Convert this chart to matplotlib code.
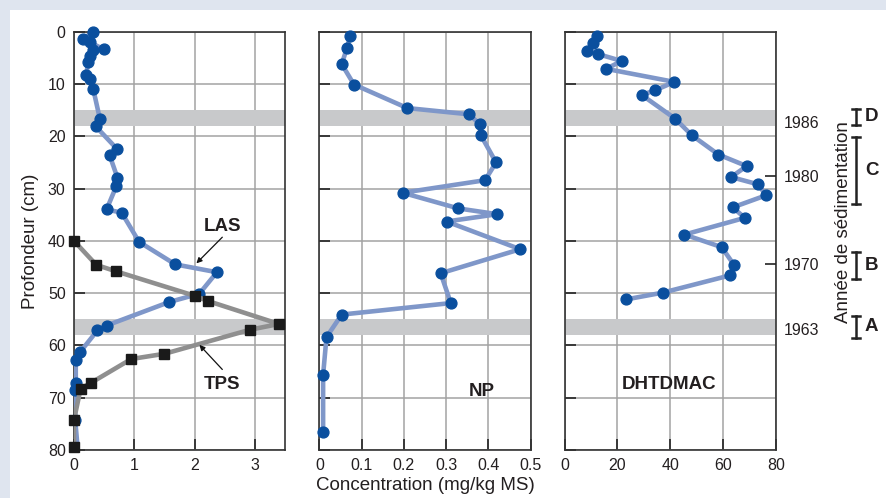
import matplotlib.pyplot as plt
import matplotlib.transforms as mtransforms
from matplotlib.patches import Rectangle

plt.rcParams['font.family'] = ['Liberation Sans', 'DejaVu Sans']

# LAS (g/kg) and TPS, depth in cm
las_depth = [0.1, 1.3, 2.0, 3.4, 3.5, 4.7, 5.7, 8.3, 9.1, 11.0, 16.7, 18.1, 22.5, 23.6,
             27.9, 29.6, 34.0, 34.6, 40.2, 44.5, 46.0, 50.1, 51.7, 56.2, 57.1, 61.3,
             62.8, 67.2, 68.5, 74.2, 78.2]
las_val = [0.32, 0.15, 0.26, 0.50, 0.32, 0.26, 0.24, 0.20, 0.26, 0.32, 0.43, 0.36, 0.72, 0.59,
           0.72, 0.70, 0.54, 0.79, 1.08, 1.68, 2.37, 2.08, 1.58, 0.54, 0.39, 0.10,
           0.03, 0.03, 0.02, 0.02, 0.05]

tps_depth = [40.0, 44.6, 45.8, 50.5, 51.5, 55.9, 57.0, 61.6, 62.6, 67.1, 68.3, 74.2, 79.5]
tps_val = [0.0, 0.37, 0.69, 2.0, 2.22, 3.40, 2.92, 1.50, 0.95, 0.29, 0.11, 0.0, 0.0]

np_depth = [0.8, 3.2, 6.2, 10.1, 14.6, 15.8, 17.7, 19.8, 25.0, 28.4, 30.8, 33.8, 34.9,
            36.3, 41.6, 46.2, 51.9, 54.1, 58.4, 65.6, 76.5]
np_val = [0.073, 0.065, 0.053, 0.082, 0.208, 0.355, 0.379, 0.382, 0.418, 0.392, 0.197,
          0.329, 0.421, 0.301, 0.475, 0.287, 0.311, 0.053, 0.017, 0.009, 0.009]

dht_depth = [0.8, 2.1, 3.7, 4.3, 5.6, 7.1, 9.6, 11.2, 12.1, 16.6, 19.8, 23.5, 25.7, 27.8,
             29.2, 31.3, 33.6, 35.6, 38.8, 41.2, 44.6, 46.6, 49.9, 51.2]
dht_val = [12.1, 10.6, 8.6, 12.8, 21.6, 15.7, 41.6, 34.3, 29.2, 41.8, 48.2, 58.3, 69.0, 63.1,
           73.4, 76.3, 63.7, 68.3, 45.4, 59.5, 64.2, 62.7, 37.2, 23.3]

# dating layers (Chernobyl 1986, 1963 bomb peak)
bands = [(15.0, 18.0), (55.0, 58.0)]
years = ['1986', '1980', '1970', '1963']
year_depth = [17.3, 27.5, 44.5, 56.8]
zones = ['D', 'C', 'B', 'A']
zone_ranges = [(14.7, 17.9), (20.2, 32.9), (42.1, 47.2), (54.3, 58.5)]

blue_line = '#7f97c9'
blue_dot = '#0a4f9e'
gray_line = '#8f8f8f'
txt = '#231f20'

fig = plt.figure(figsize=(8.86, 4.98), dpi=100, facecolor='#dfe5ef')
fig.add_artist(Rectangle((10 / 886, 0), 1, 1 - 10 / 498, transform=fig.transFigure,
                         facecolor='white', edgecolor='none', zorder=-10))

bottom, height = 0.0964, 0.8399
ax1 = fig.add_axes([0.0835, bottom, 0.2382, height])
ax2 = fig.add_axes([0.3604, bottom, 0.2386, height])
ax3 = fig.add_axes([0.6374, bottom, 0.2381, height])

for ax in (ax1, ax2, ax3):
    ax.set_ylim(80, 0)
    ax.set_yticks(range(0, 81, 10))
    ax.grid(True, color='#a3a3a3', lw=1.1)
    ax.set_axisbelow(True)
    for b in bands:
        ax.axhspan(b[0], b[1], color='#c8c9cb', lw=0, zorder=1)
    for s in ax.spines.values():
        s.set_color('#333333')
        s.set_linewidth(1.2)
    ax.tick_params(direction='in', length=8, width=1.2, color='#222222',
                   labelsize=11.5, labelcolor=txt, pad=6)

ax1.set_xlim(0, 3.5)
ax1.set_xticks([0, 1, 2, 3])
ax2.set_xlim(0, 0.5)
ax2.set_xticks([0, 0.1, 0.2, 0.3, 0.4, 0.5])
ax2.set_xticklabels(['0', '0.1', '0.2', '0.3', '0.4', '0.5'])
ax3.set_xlim(0, 80)
ax3.set_xticks([0, 20, 40, 60, 80])
ax2.set_yticklabels([])
ax3.set_yticklabels([])

# LAS line runs a bit past its last dot
ax1.plot(las_val, las_depth, color=blue_line, lw=3.3, zorder=3)
ax1.plot(las_val[:-1], las_depth[:-1], 'o', color=blue_dot, ms=7.8, zorder=4,
         clip_on=False)
ax1.plot(tps_val, tps_depth, color=gray_line, lw=3.3, zorder=5)
ax1.plot(tps_val, tps_depth, 's', color='#1a1a1a', ms=6.5, zorder=6, clip_on=False)

ax2.plot(np_val, np_depth, color=blue_line, lw=3.3, marker='o', mfc=blue_dot,
         mec=blue_dot, ms=7.8, zorder=3, clip_on=False)
ax3.plot(dht_val, dht_depth, color=blue_line, lw=3.3, marker='o', mfc=blue_dot,
         mec=blue_dot, ms=7.8, zorder=3, clip_on=False)

bold = dict(fontsize=13.5, fontweight='bold', color=txt, ha='center', va='center')
arrow = dict(arrowstyle='-|>', color='#111111', lw=0.9, mutation_scale=8,
             shrinkA=0, shrinkB=0)
ax1.text(2.46, 37.3, 'LAS', zorder=8, **bold)
ax1.annotate('', xy=(2.03, 44.3), xytext=(2.46, 39.3), arrowprops=arrow, zorder=8)
ax1.text(2.46, 67.4, 'TPS', zorder=8, **bold)
ax1.annotate('', xy=(2.08, 59.9), xytext=(2.46, 64.6), arrowprops=arrow, zorder=8)
ax2.text(0.385, 68.9, 'NP', **bold)
ax3.text(39.5, 67.4, 'DHTDMAC', **bold)

ax1.set_ylabel('Profondeur (cm)', fontsize=13.5, color=txt, labelpad=6)
ax2.set_xlabel('Concentration (mg/kg MS)', fontsize=13.5, color=txt, labelpad=3)

# year axis on the right
axy = ax3.twinx()
axy.set_ylim(80, 0)
axy.set_yticks(year_depth)
axy.set_yticklabels(years)
axy.tick_params(direction='in', length=8, width=1.2, color='#222222',
                labelsize=11.5, labelcolor=txt, pad=6)
for i in (0, 3):
    axy.yaxis.get_major_ticks()[i].tick2line.set_visible(False)
for s in axy.spines.values():
    s.set_visible(False)

trans = mtransforms.blended_transform_factory(ax3.transAxes, ax3.transData)
axy.text(1.32, 36.4, 'Année de sédimentation', transform=trans, rotation=90,
         fontsize=13.5, color=txt, ha='center', va='center')
for z, (d0, d1) in zip(zones, zone_ranges):
    ax3.plot([1.3795, 1.3795], [d0, d1], color='#222222', lw=1.8, transform=trans,
             clip_on=False)
    ax3.plot([1.361, 1.398], [d0, d0], color='#222222', lw=1.8, transform=trans,
             clip_on=False)
    ax3.plot([1.361, 1.398], [d1, d1], color='#222222', lw=1.8, transform=trans,
             clip_on=False)
    ax3.text(1.455, (d0 + d1) / 2, z, transform=trans, **bold)

fig.savefig('out.png', dpi=100, facecolor=fig.get_facecolor())
